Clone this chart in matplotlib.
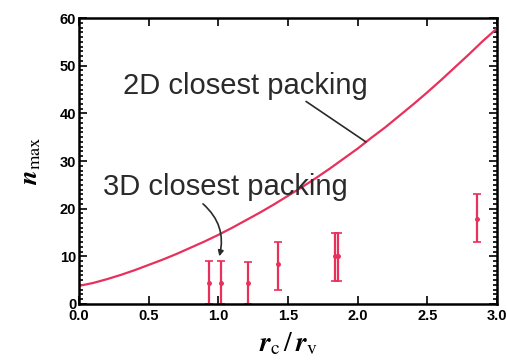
import matplotlib
matplotlib.use('Agg')
import matplotlib.pyplot as plt
from matplotlib.ticker import MultipleLocator

# 2D closest packing curve
R_CURVE = [0.0, 0.1, 0.2, 0.3, 0.4, 0.5, 0.6, 0.7, 0.8, 0.9, 1.0,
           1.1, 1.2, 1.3, 1.4, 1.5, 1.6, 1.7, 1.8, 1.9, 2.0,
           2.1, 2.2, 2.3, 2.4, 2.5, 2.6, 2.7, 2.8, 2.9, 3.0]
N_CURVE = [3.8, 4.4, 5.2, 6.1, 7.1, 8.2, 9.3, 10.5, 11.8, 13.1, 14.5,
           16.0, 17.6, 19.2, 20.9, 22.7, 24.5, 26.4, 28.4, 30.5, 32.6,
           34.9, 37.1, 39.5, 41.9, 44.4, 47.0, 49.7, 52.4, 55.2, 57.8]

# measured points with error bars
R_MEAS = [0.93, 1.02, 1.215, 1.43, 1.84, 1.86, 2.86]
N_MEAS = [4.4, 4.4, 4.4, 8.3, 10.0, 10.0, 17.9]
N_LOW = [0.0, 0.0, 0.0, 2.9, 4.8, 4.8, 12.9]
N_HIGH = [9.0, 9.0, 8.9, 13.0, 14.9, 14.9, 23.0]

RED = '#e8305a'
INK = '#2a2a2a'

plt.rcParams['font.family'] = ['Liberation Sans', 'DejaVu Sans']
plt.rcParams['mathtext.fontset'] = 'stix'

fig = plt.figure(figsize=(5.07, 3.61), dpi=100)
ax = fig.add_axes([0.156, 0.158, 0.824, 0.792])

ax.plot(R_CURVE, N_CURVE, color=RED, lw=1.6)

err_lo = [m - l for m, l in zip(N_MEAS, N_LOW)]
err_hi = [h - m for m, h in zip(N_MEAS, N_HIGH)]
ax.errorbar(R_MEAS, N_MEAS, yerr=[err_lo, err_hi], fmt='o', ms=2.5,
            color=RED, ecolor=RED, elinewidth=1.6, capsize=3, capthick=1.2)

ax.set_xlim(0, 3.0)
ax.set_ylim(0, 60)
ax.xaxis.set_major_locator(MultipleLocator(0.5))
ax.yaxis.set_major_locator(MultipleLocator(10))
ax.yaxis.set_minor_locator(MultipleLocator(1))
ax.tick_params(which='both', direction='in', top=True, right=True,
               labelsize=10.5, width=1.2)
ax.tick_params(which='major', length=6)
ax.tick_params(which='minor', length=3)
ax.tick_params(axis='y', pad=2)
for lab in ax.get_xticklabels() + ax.get_yticklabels():
    lab.set_fontweight('bold')
for s in ax.spines.values():
    s.set_linewidth(1.8)

ax.set_xlabel(r'$\boldsymbol{r}_{\rm c}\,/\,\boldsymbol{r}_{\rm v}$',
              fontsize=20, labelpad=6)
ax.set_ylabel(r'$\boldsymbol{n}_{\rm max}$', fontsize=19, labelpad=12)

ax.text(0.316, 44.1, '2D closest packing', fontsize=21, color=INK,
        ha='left', va='baseline')
ax.annotate('', xy=(2.06, 34.0), xytext=(1.63, 42.5),
            arrowprops=dict(arrowstyle='-', color=INK, lw=1.2,
                            shrinkA=0, shrinkB=0))
ax.text(0.17, 22.8, '3D closest packing', fontsize=21, color=INK,
        ha='left', va='baseline')
ax.annotate('', xy=(1.007, 10.0), xytext=(0.89, 21.0),
            arrowprops=dict(arrowstyle='-|>', color=INK, lw=1.2,
                            mutation_scale=8, shrinkA=0, shrinkB=0,
                            connectionstyle='arc3,rad=-0.3'))

fig.savefig('out.png', dpi=100)
